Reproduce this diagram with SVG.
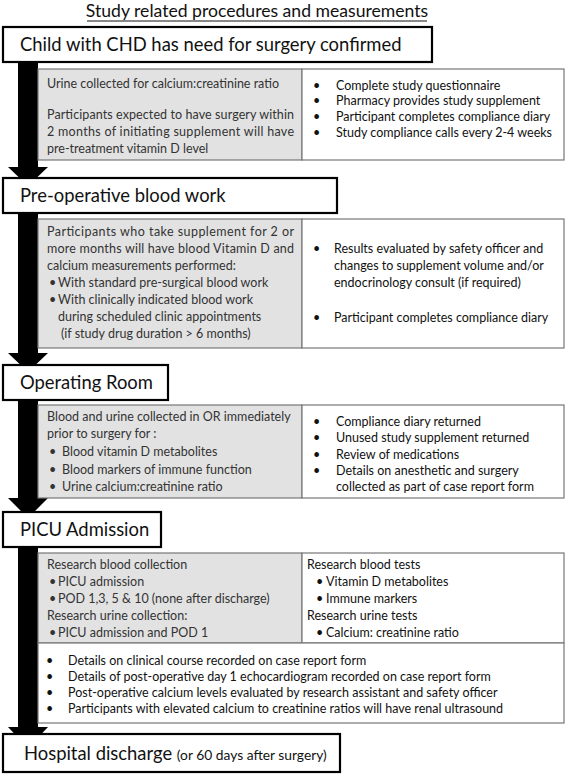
<svg xmlns="http://www.w3.org/2000/svg" width="567" height="776" viewBox="0 0 567 776">
<style>
text{font-family:Lato,"Liberation Sans",sans-serif;}
.title{font-size:17.6px;fill:#111;}
.hdr{fill:#fff;stroke:#000;stroke-width:2.2;}
.ht{font-size:18.4px;fill:#111;}
.gray{fill:#e2e2e2;stroke:#777;stroke-width:1.2;}
.wbox{fill:#fff;stroke:#777;stroke-width:1.2;}
.lt{font-size:12.5px;fill:#333;}
.rt{font-size:12.5px;fill:#111;}
.arrow{fill:#000;}
</style>
<rect width="567" height="776" fill="#fff"/>
<g id="title">
<text class="title" x="257" y="17" text-anchor="middle">Study related procedures and measurements</text>
<line x1="87" y1="21" x2="427" y2="21" stroke="#111" stroke-width="1"/>
</g>
<g id="connectors">
<polygon class="arrow" points="18,62 38,62 38,167 48,167 28,186 8,167 18,167"/>
<polygon class="arrow" points="18,213 38,213 38,353 48,353 28,372 8,353 18,353"/>
<polygon class="arrow" points="18,400 38,400 38,498 48,498 28,518 8,498 18,498"/>
<polygon class="arrow" points="18,547 38,547 38,727 48,727 28,748 8,727 18,727"/>
</g>
<g id="n1">
<rect class="hdr" x="3" y="27" width="429" height="35"/>
<text class="ht" x="20" y="51">Child with CHD has need for surgery confirmed</text>
</g>
<g id="n1a">
<rect class="gray" x="38" y="69" width="264" height="91"/>
<text class="lt" x="47" y="88">Urine collected for calcium:creatinine ratio</text>
<text class="lt" x="47" y="119" textLength="247" lengthAdjust="spacing">Participants expected to have surgery within</text>
<text class="lt" x="47" y="136" textLength="247" lengthAdjust="spacing">2 months of initiating supplement will have</text>
<text class="lt" x="47" y="153">pre-treatment vitamin D level</text>
</g>
<g id="n1b">
<rect class="wbox" x="302" y="69" width="262" height="91"/>
<text class="rt" x="313" y="90">•</text><text class="rt" x="336" y="90">Complete study questionnaire</text>
<text class="rt" x="313" y="105">•</text><text class="rt" x="336" y="105">Pharmacy provides study supplement</text>
<text class="rt" x="313" y="121">•</text><text class="rt" x="336" y="121">Participant completes compliance diary</text>
<text class="rt" x="313" y="137">•</text><text class="rt" x="336" y="137">Study compliance calls every 2-4 weeks</text>
</g>
<g id="n2">
<rect class="hdr" x="3" y="178" width="334" height="35"/>
<text class="ht" x="20" y="202">Pre-operative blood work</text>
</g>
<g id="n2a">
<rect class="gray" x="38" y="219" width="264" height="129"/>
<text class="lt" x="47" y="236" textLength="247" lengthAdjust="spacing">Participants who take supplement for 2 or</text>
<text class="lt" x="47" y="253" textLength="247" lengthAdjust="spacing">more months will have blood Vitamin D and</text>
<text class="lt" x="47" y="270">calcium measurements performed:</text>
<text class="lt" x="49" y="287">•</text><text class="lt" x="58" y="287">With standard pre-surgical blood work</text>
<text class="lt" x="49" y="304">•</text><text class="lt" x="58" y="304">With clinically indicated blood work</text>
<text class="lt" x="58" y="321">during scheduled clinic appointments</text>
<text class="lt" x="61" y="338">(if study drug duration &gt; 6 months)</text>
</g>
<g id="n2b">
<rect class="wbox" x="302" y="219" width="262" height="129"/>
<text class="rt" x="313" y="253">•</text><text class="rt" x="334" y="253">Results evaluated by safety officer and</text>
<text class="rt" x="334" y="270">changes to supplement volume and/or</text>
<text class="rt" x="334" y="287">endocrinology consult (if required)</text>
<text class="rt" x="313" y="322">•</text><text class="rt" x="334" y="322">Participant completes compliance diary</text>
</g>
<g id="n3">
<rect class="hdr" x="3" y="365" width="165" height="35"/>
<text class="ht" x="20" y="389">Operating Room</text>
</g>
<g id="n3a">
<rect class="gray" x="38" y="405" width="264" height="93"/>
<text class="lt" x="47" y="421">Blood and urine collected in OR immediately</text>
<text class="lt" x="47" y="438">prior to surgery for :</text>
<text class="lt" x="49" y="456">•</text><text class="lt" x="62" y="456">Blood vitamin D metabolites</text>
<text class="lt" x="49" y="474">•</text><text class="lt" x="62" y="474">Blood markers of immune function</text>
<text class="lt" x="49" y="491">•</text><text class="lt" x="62" y="491">Urine calcium:creatinine ratio</text>
</g>
<g id="n3b">
<rect class="wbox" x="302" y="405" width="262" height="93"/>
<text class="rt" x="313" y="426">•</text><text class="rt" x="336" y="426">Compliance diary returned</text>
<text class="rt" x="313" y="442">•</text><text class="rt" x="336" y="442">Unused study supplement returned</text>
<text class="rt" x="313" y="459">•</text><text class="rt" x="336" y="459">Review of medications</text>
<text class="rt" x="313" y="475">•</text><text class="rt" x="336" y="475">Details on anesthetic and surgery</text>
<text class="rt" x="336" y="491">collected as part of case report form</text>
</g>
<g id="n4">
<rect class="hdr" x="3" y="512" width="158" height="35"/>
<text class="ht" x="20" y="536">PICU Admission</text>
</g>
<g id="n4a">
<rect class="gray" x="38" y="553" width="264" height="90"/>
<text class="lt" x="47" y="569">Research blood collection</text>
<text class="lt" x="49" y="586">•</text><text class="lt" x="58" y="586">PICU admission</text>
<text class="lt" x="49" y="603">•</text><text class="lt" x="58" y="603">POD 1,3, 5 &amp; 10 (none after discharge)</text>
<text class="lt" x="47" y="620">Research urine collection:</text>
<text class="lt" x="49" y="637">•</text><text class="lt" x="58" y="637">PICU admission and POD 1</text>
</g>
<g id="n4b">
<rect class="wbox" x="302" y="553" width="262" height="90"/>
<text class="rt" x="307" y="569">Research blood tests</text>
<text class="rt" x="316" y="586">•</text><text class="rt" x="326" y="586">Vitamin D metabolites</text>
<text class="rt" x="316" y="603">•</text><text class="rt" x="326" y="603">Immune markers</text>
<text class="rt" x="307" y="620">Research urine tests</text>
<text class="rt" x="316" y="637">•</text><text class="rt" x="326" y="637">Calcium: creatinine ratio</text>
</g>
<g id="n4c">
<rect class="wbox" x="38" y="643" width="526" height="80"/>
<text class="rt" x="46" y="665">•</text><text class="rt" x="68" y="665">Details on clinical course recorded on case report form</text>
<text class="rt" x="46" y="681">•</text><text class="rt" x="68" y="681">Details of post-operative day 1 echocardiogram recorded on case report form</text>
<text class="rt" x="46" y="697">•</text><text class="rt" x="68" y="697">Post-operative calcium levels evaluated by research assistant and safety officer</text>
<text class="rt" x="46" y="713">•</text><text class="rt" x="68" y="713">Participants with elevated calcium to creatinine ratios will have renal ultrasound</text>
</g>
<g id="n5">
<rect class="hdr" x="3" y="734" width="337" height="38"/>
<text class="ht" x="24" y="760">Hospital discharge <tspan font-size="13.8">(or 60 days after surgery)</tspan></text>
</g>
</svg>
